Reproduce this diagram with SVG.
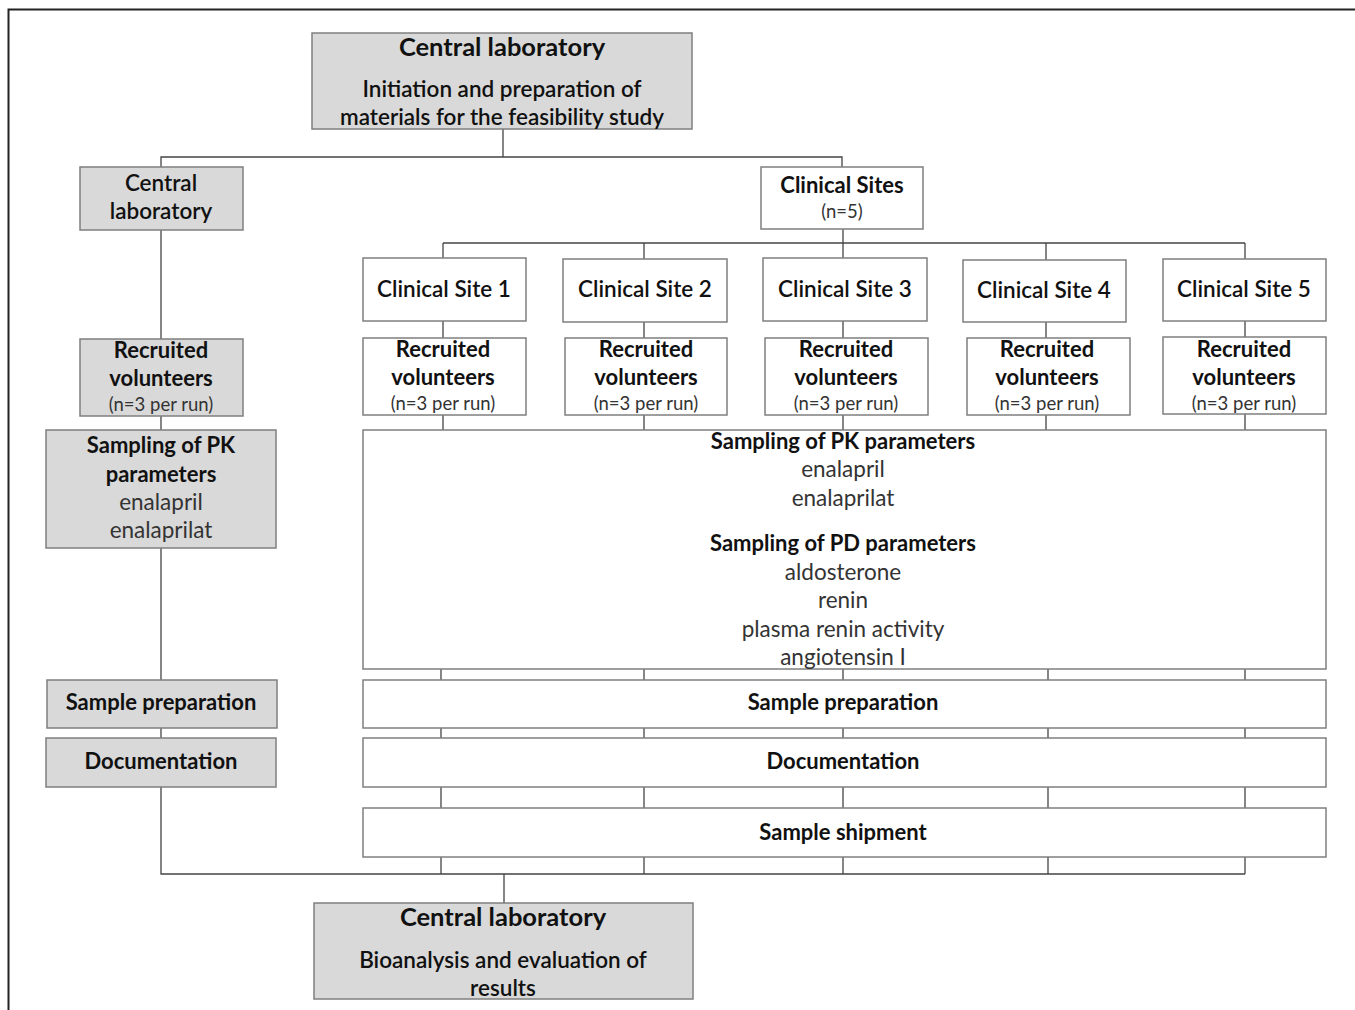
<svg xmlns="http://www.w3.org/2000/svg" width="1355" height="1010" viewBox="0 0 1355 1010">
<style>
text{font-family:Lato,"Noto Sans","DejaVu Sans",sans-serif;text-anchor:middle;fill:#111}
.g{fill:#d9d9d9;stroke:#7f7f7f;stroke-width:1.5}
.w{fill:#fff;stroke:#7f7f7f;stroke-width:1.5}
.h{font-size:25.5px;font-weight:bold}
.b{font-size:22px;font-weight:bold}
.m{font-size:22.5px;font-weight:600}
.r{font-size:22.5px;fill:#333}
.s{font-size:18.5px;fill:#333}
.c line,.c polyline{stroke:#444;stroke-width:1.3;fill:none}
</style>
<rect width="1355" height="1010" fill="#fff"/>
<polyline points="8.5,1010 8.5,9.5 1355,9.5" fill="none" stroke="#222" stroke-width="2"/>
<g class="c" id="connectors">
<line x1="503" y1="129" x2="503" y2="157"/>
<polyline points="161,167 161,157 842,157 842,167"/>
<line x1="161" y1="230" x2="161" y2="339"/>
<line x1="161" y1="416" x2="161" y2="430"/>
<line x1="161" y1="548" x2="161" y2="680"/>
<line x1="161" y1="728" x2="161" y2="738"/>
<line x1="843" y1="229" x2="843" y2="243"/>
<line x1="443" y1="243" x2="1245" y2="243"/>
<line x1="443" y1="243" x2="443" y2="258"/>
<line x1="644" y1="243" x2="644" y2="259"/>
<line x1="843" y1="243" x2="843" y2="258"/>
<line x1="1046" y1="243" x2="1046" y2="260"/>
<line x1="1245" y1="243" x2="1245" y2="259"/>
<line x1="443" y1="321" x2="443" y2="338"/>
<line x1="644" y1="322" x2="644" y2="338"/>
<line x1="843" y1="321" x2="843" y2="338"/>
<line x1="1046" y1="322" x2="1046" y2="338"/>
<line x1="1245" y1="321" x2="1245" y2="337"/>
<line x1="443" y1="415" x2="443" y2="430"/>
<line x1="644" y1="415" x2="644" y2="430"/>
<line x1="843" y1="415" x2="843" y2="430"/>
<line x1="1046" y1="415" x2="1046" y2="430"/>
<line x1="1245" y1="414" x2="1245" y2="430"/>
<line x1="441" y1="669" x2="441" y2="680"/>
<line x1="644" y1="669" x2="644" y2="680"/>
<line x1="843" y1="669" x2="843" y2="680"/>
<line x1="1048" y1="669" x2="1048" y2="680"/>
<line x1="1245" y1="669" x2="1245" y2="680"/>
<line x1="441" y1="728" x2="441" y2="738"/>
<line x1="644" y1="728" x2="644" y2="738"/>
<line x1="843" y1="728" x2="843" y2="738"/>
<line x1="1048" y1="728" x2="1048" y2="738"/>
<line x1="1245" y1="728" x2="1245" y2="738"/>
<line x1="441" y1="787" x2="441" y2="808"/>
<line x1="644" y1="787" x2="644" y2="808"/>
<line x1="843" y1="787" x2="843" y2="808"/>
<line x1="1048" y1="787" x2="1048" y2="808"/>
<line x1="1245" y1="787" x2="1245" y2="808"/>
<line x1="441" y1="857" x2="441" y2="874"/>
<line x1="644" y1="857" x2="644" y2="874"/>
<line x1="843" y1="857" x2="843" y2="874"/>
<line x1="1048" y1="857" x2="1048" y2="874"/>
<line x1="1245" y1="857" x2="1245" y2="874"/>
<polyline points="161,787 161,874 1245,874"/>
<line x1="504" y1="874" x2="504" y2="903"/>
</g>
<g id="top-lab"><rect class="g" x="312" y="33" width="380" height="96"/>
<text class="h" x="502" y="56">Central laboratory</text>
<text class="m" x="502" y="97">Initiation and preparation of</text>
<text class="m" x="502" y="125">materials for the feasibility study</text></g>
<g id="left-lab"><rect class="g" x="80" y="167" width="163" height="63"/>
<text class="m" x="161" y="191">Central</text><text class="m" x="161" y="219">laboratory</text></g>
<g id="sites"><rect class="w" x="761" y="167" width="162" height="62"/>
<text class="b" x="842" y="193">Clinical Sites</text><text class="s" x="842" y="218">(n=5)</text></g>
<g id="site1"><rect class="w" x="363" y="258" width="163" height="63"/><text class="m" x="444" y="297">Clinical Site 1</text></g>
<g id="site2"><rect class="w" x="563" y="259" width="164" height="63"/><text class="m" x="645" y="297">Clinical Site 2</text></g>
<g id="site3"><rect class="w" x="763" y="258" width="164" height="63"/><text class="m" x="845" y="297">Clinical Site 3</text></g>
<g id="site4"><rect class="w" x="963" y="260" width="163" height="62"/><text class="m" x="1044" y="298">Clinical Site 4</text></g>
<g id="site5"><rect class="w" x="1163" y="259" width="163" height="62"/><text class="m" x="1244" y="297">Clinical Site 5</text></g>
<g id="rec0"><rect class="g" x="80" y="339" width="163" height="77"/>
<text class="b" x="161" y="358">Recruited</text><text class="b" x="161" y="386">volunteers</text><text class="s" x="161" y="411">(n=3 per run)</text></g>
<g id="rec1"><rect class="w" x="363" y="338" width="163" height="77"/>
<text class="b" x="443" y="357">Recruited</text><text class="b" x="443" y="385">volunteers</text><text class="s" x="443" y="410">(n=3 per run)</text></g>
<g id="rec2"><rect class="w" x="565" y="338" width="162" height="77"/>
<text class="b" x="646" y="357">Recruited</text><text class="b" x="646" y="385">volunteers</text><text class="s" x="646" y="410">(n=3 per run)</text></g>
<g id="rec3"><rect class="w" x="765" y="338" width="163" height="77"/>
<text class="b" x="846" y="357">Recruited</text><text class="b" x="846" y="385">volunteers</text><text class="s" x="846" y="410">(n=3 per run)</text></g>
<g id="rec4"><rect class="w" x="967" y="338" width="163" height="77"/>
<text class="b" x="1047" y="357">Recruited</text><text class="b" x="1047" y="385">volunteers</text><text class="s" x="1047" y="410">(n=3 per run)</text></g>
<g id="rec5"><rect class="w" x="1163" y="337" width="163" height="77"/>
<text class="b" x="1244" y="357">Recruited</text><text class="b" x="1244" y="385">volunteers</text><text class="s" x="1244" y="410">(n=3 per run)</text></g>
<g id="pk-left"><rect class="g" x="46" y="430" width="230" height="118"/>
<text class="b" x="161" y="453">Sampling of PK</text><text class="b" x="161" y="482">parameters</text>
<text class="r" x="161" y="510">enalapril</text><text class="r" x="161" y="538">enalaprilat</text></g>
<g id="sampling"><rect class="w" x="363" y="430" width="963" height="239"/>
<text class="b" x="843" y="449">Sampling of PK parameters</text>
<text class="r" x="843" y="477">enalapril</text>
<text class="r" x="843" y="506">enalaprilat</text>
<text class="b" x="843" y="551">Sampling of PD parameters</text>
<text class="r" x="843" y="580">aldosterone</text>
<text class="r" x="843" y="608">renin</text>
<text class="r" x="843" y="637">plasma renin activity</text>
<text class="r" x="843" y="665">angiotensin I</text></g>
<g id="prep-left"><rect class="g" x="47" y="680" width="230" height="48"/><text class="b" x="161" y="710">Sample preparation</text></g>
<g id="doc-left"><rect class="g" x="46" y="738" width="230" height="49"/><text class="b" x="161" y="769">Documentation</text></g>
<g id="prep"><rect class="w" x="363" y="680" width="963" height="48"/><text class="b" x="843" y="710">Sample preparation</text></g>
<g id="doc"><rect class="w" x="363" y="738" width="963" height="49"/><text class="b" x="843" y="769">Documentation</text></g>
<g id="ship"><rect class="w" x="363" y="808" width="963" height="49"/><text class="b" x="843" y="840">Sample shipment</text></g>
<g id="bottom-lab"><rect class="g" x="314" y="903" width="379" height="96"/>
<text class="h" x="503" y="926">Central laboratory</text>
<text class="m" x="503" y="968">Bioanalysis and evaluation of</text>
<text class="m" x="503" y="996">results</text></g>
</svg>
